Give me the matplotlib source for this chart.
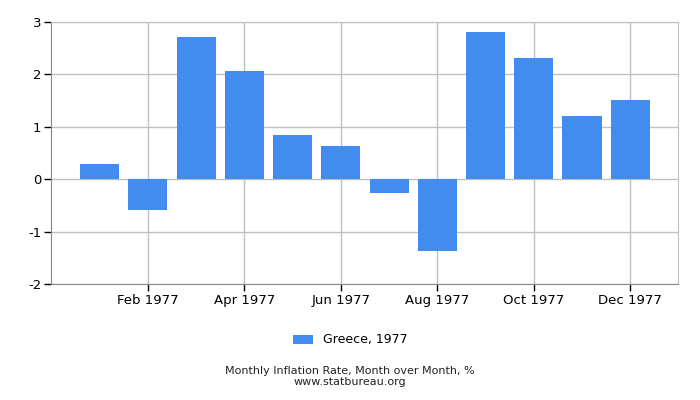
import numpy as np
import matplotlib
matplotlib.use("Agg")
import matplotlib.pyplot as plt

# Greece, 1977 monthly inflation (month over month, %)
months = ["Jan", "Feb", "Mar", "Apr", "May", "Jun",
          "Jul", "Aug", "Sep", "Oct", "Nov", "Dec"]
values = [0.29, -0.59, 2.72, 2.07, 0.84, 0.63,
          -0.26, -1.37, 2.81, 2.32, 1.21, 1.51]
tick_months = ["Feb", "Apr", "Jun", "Aug", "Oct", "Dec"]
year = 1977
series_label = "Greece, 1977"
BLUE = "#428bef"
GRID = "#c0c0c0"

plt.rcParams["axes.unicode_minus"] = False

fig = plt.figure(figsize=(7, 4), dpi=100)
ax = fig.add_axes([51 / 700, 116 / 400, 627 / 700, 262 / 400])

x = np.arange(len(months))
ax.bar(x, values, width=0.81, color=BLUE, label=series_label, zorder=2)

ax.set_xlim(-1.01, 11.99)
ax.set_ylim(-2, 3)
ax.set_yticks([-2, -1, 0, 1, 2, 3])
ax.set_xticks([months.index(m) for m in tick_months])
ax.set_xticklabels([f"{m} {year}" for m in tick_months])

ax.grid(True, color=GRID, linewidth=1, zorder=0)
ax.set_axisbelow(True)
for side in ["top", "right"]:
    ax.spines[side].set_color(GRID)
ax.spines["left"].set_color("#888888")
ax.spines["bottom"].set_color("#888888")
ax.tick_params(axis="both", labelsize=9.5, colors="black", length=5, width=1)
ax.tick_params(axis="y", pad=2)
ax.tick_params(axis="x", pad=2.5)

fig.legend(loc="center", bbox_to_anchor=(0.5, 60 / 400), frameon=False,
           fontsize=9, handlelength=1.6, handleheight=0.7)
fig.text(0.5, 29 / 400, "Monthly Inflation Rate, Month over Month, %",
         ha="center", va="center", fontsize=8, color="#222222")
fig.text(0.5, 18 / 400, "www.statbureau.org",
         ha="center", va="center", fontsize=8, color="#222222")

fig.savefig("out.png", dpi=100)
